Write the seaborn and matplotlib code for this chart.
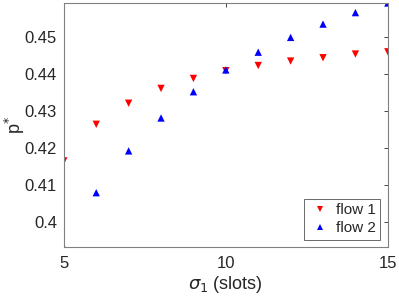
import numpy as np
import pandas as pd
import matplotlib
matplotlib.use("Agg")
import matplotlib.pyplot as plt
import seaborn as sns

# data
sigma1 = [5, 6, 7, 8, 9, 10, 11, 12, 13, 14, 15]
flow1 = [0.4165, 0.4264, 0.4321, 0.4361, 0.4388, 0.4409, 0.4423, 0.4435, 0.4444, 0.4454, 0.4460]
flow2 = [0.3931, 0.4079, 0.4192, 0.4281, 0.4352, 0.4411, 0.4459, 0.4499, 0.4535, 0.4566, 0.4592]
x_ticks = [5, 10, 15]
y_ticks = [0.40, 0.41, 0.42, 0.43, 0.44, 0.45]

df = pd.DataFrame({
    "sigma1": sigma1 * 2,
    "p": flow1 + flow2,
    "flow": ["flow 1"] * len(sigma1) + ["flow 2"] * len(sigma1),
})

sns.set_style("white")
plt.rcParams["font.family"] = ["Liberation Sans", "DejaVu Sans"]
plt.rcParams["mathtext.fontset"] = "dejavusans"
plt.rcParams["xtick.direction"] = "in"
plt.rcParams["ytick.direction"] = "in"

fig = plt.figure(figsize=(3.99, 3.01), dpi=100)
ax = fig.add_axes([0.16, 0.178, 0.812, 0.812])

sns.scatterplot(data=df, x="sigma1", y="p", hue="flow", style="flow",
                palette={"flow 1": "red", "flow 2": "blue"},
                markers={"flow 1": "v", "flow 2": "^"},
                s=28, linewidth=0, ax=ax)

ax.set_xlim(5, 15)
ax.set_ylim(0.3931, 0.4592)
ax.set_xticks(x_ticks)
ax.set_yticks(y_ticks)
ax.set_yticklabels(["0.4", "0.41", "0.42", "0.43", "0.44", "0.45"])
ax.tick_params(labelsize=12, colors="#262626", length=3, width=0.6,
               top=True, right=True, pad=5)
ax.tick_params(axis="x", pad=6)
for sp in ax.spines.values():
    sp.set_color("#808080")
    sp.set_linewidth(0.8)
    sp.set_visible(True)

ax.set_xlabel(r"$\sigma_1$ (slots)", fontsize=13, color="#262626", labelpad=2)
ax.set_ylabel(r"p$^{*}$", fontsize=13, color="#262626")
ax.yaxis.set_label_coords(-0.115, 0.5)

leg = ax.legend(loc="lower right", fontsize=11, frameon=True, fancybox=False,
                edgecolor="#262626", handletextpad=0.2, borderpad=0.3,
                labelspacing=0.25, markerscale=0.7, handlelength=1.6,
                borderaxespad=0.5)
leg.get_frame().set_linewidth(0.6)

fig.savefig("out.png", dpi=100)
